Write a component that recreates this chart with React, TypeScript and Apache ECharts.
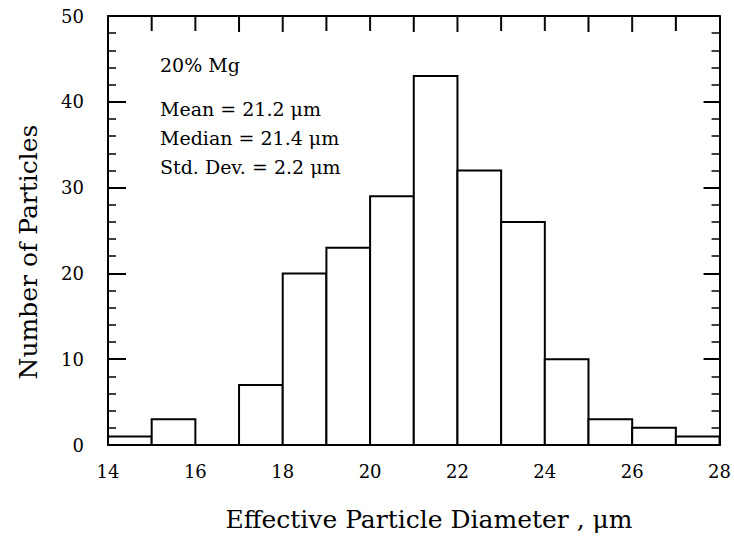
import React, { useEffect, useRef } from "react";
import * as echarts from "echarts";

const binStarts = [14, 15, 16, 17, 18, 19, 20, 21, 22, 23, 24, 25, 26, 27];
const binWidth = 1;
const counts = [1, 3, 0, 7, 20, 23, 29, 43, 32, 26, 10, 3, 2, 1];
const xTickLabels = [14, 16, 18, 20, 22, 24, 26, 28];
const topTickValues = [15, 16, 17, 18, 19, 20, 21, 22, 23, 24, 25, 26, 27];
const yTickLabels = [0, 10, 20, 30, 40, 50];
const annotationTitle = "20% Mg";
const annotationLines = ["Mean = 21.2 μm", "Median = 21.4 μm", "Std. Dev. = 2.2 μm"];
const xTitle = "Effective Particle Diameter , μm";
const yTitle = "Number of Particles";

const FONT = "DejaVu Serif";

export default function App() {
  const ref = useRef<HTMLDivElement>(null);
  useEffect(() => {
    document.body.style.margin = "0";
    if (!ref.current) return;
    const chart = echarts.init(ref.current, null, { renderer: "svg" });
    const data = binStarts.map((s, i) => [s, s + binWidth, counts[i]]);
    const yMax = yTickLabels[yTickLabels.length - 1];
    const line = { show: true, onZero: false, lineStyle: { color: "#000", width: 2 } };
    const variants = [
      ["#000", 15],
      ["#0a0a0a", 15],
      ["#000", 16],
      ["#0a0a0a", 16],
    ];
    chart.setOption({
      animation: false,
      backgroundColor: "#fff",
      grid: { left: 108, right: 10, top: 16, bottom: 91 },
      xAxis: [
        {
          type: "value",
          min: xTickLabels[0],
          max: xTickLabels[xTickLabels.length - 1],
          interval: 2,
          position: "bottom",
          axisLine: line,
          axisTick: { show: false },
          splitLine: { show: false },
          axisLabel: { color: "#000", fontSize: 18, fontFamily: FONT, margin: 17 },
        },
        {
          type: "value",
          min: xTickLabels[0],
          max: xTickLabels[xTickLabels.length - 1],
          interval: 1,
          position: "top",
          axisLine: line,
          axisTick: { show: false },
          splitLine: { show: false },
          axisLabel: { show: false },
        },
      ],
      yAxis: [
        {
          type: "value",
          min: yTickLabels[0],
          max: yMax,
          interval: 10,
          position: "left",
          axisLine: line,
          axisTick: { show: true, inside: true, length: 18, lineStyle: { color: "#000", width: 2 } },
          minorTick: { show: true, splitNumber: 5, length: 8, lineStyle: { color: "#000", width: 1.5 } },
          splitLine: { show: false },
          axisLabel: { color: "#000", fontSize: 18, fontFamily: FONT, margin: 24 },
        },
        {
          type: "value",
          min: yTickLabels[0],
          max: yMax,
          interval: 10,
          position: "right",
          axisLine: line,
          axisTick: { show: true, inside: true, length: 16, lineStyle: { color: "#000", width: 2 } },
          minorTick: { show: true, splitNumber: 5, length: 8, lineStyle: { color: "#000", width: 1.5 } },
          splitLine: { show: false },
          axisLabel: { show: false },
        },
      ],
      series: [
        {
          type: "custom",
          xAxisIndex: 0,
          yAxisIndex: 0,
          data,
          encode: { x: [0, 1], y: 2 },
          renderItem: (params: any, api: any) => {
            const x0 = api.value(0);
            const x1 = api.value(1);
            const c = api.value(2);
            if (!c) return null;
            const p0 = api.coord([x0, c]);
            const p1 = api.coord([x1, 0]);
            return {
              type: "rect",
              shape: { x: p0[0], y: p0[1], width: p1[0] - p0[0], height: p1[1] - p0[1] },
              style: { fill: "#fff", stroke: "#000", lineWidth: 2 },
            };
          },
        },
        {
          type: "custom",
          xAxisIndex: 0,
          yAxisIndex: 0,
          data: topTickValues.map((v) => [v, yMax]),
          encode: { x: 0, y: 1 },
          clip: false,
          z: 10,
          renderItem: (params: any, api: any) => {
            const p = api.coord([api.value(0), api.value(1)]);
            const [col, h] = variants[params.dataIndex % 4] as [string, number];
            return {
              type: "rect",
              shape: { x: p[0] - 1, y: p[1], width: 2, height: h },
              style: { fill: col },
            };
          },
        },
      ],
      graphic: [
        {
          type: "text",
          left: 160,
          top: 55,
          style: { text: annotationTitle, font: `19px "${FONT}"`, fill: "#000" },
        },
        ...annotationLines.map((t, i) => ({
          type: "text",
          left: 160,
          top: 99 + i * 29,
          style: { text: t, font: `19px "${FONT}"`, fill: "#000" },
        })),
        {
          type: "text",
          x: 429,
          y: 519,
          style: {
            text: xTitle,
            font: `25px "${FONT}"`,
            fill: "#000",
            align: "center",
            verticalAlign: "middle",
          },
        },
        {
          type: "text",
          x: 28,
          y: 252,
          rotation: Math.PI / 2,
          style: {
            text: yTitle,
            font: `25px "${FONT}"`,
            fill: "#000",
            align: "center",
            verticalAlign: "middle",
          },
        },
      ],
    });
    return () => chart.dispose();
  }, []);
  return <div ref={ref} style={{ width: 734, height: 536 }} />;
}
